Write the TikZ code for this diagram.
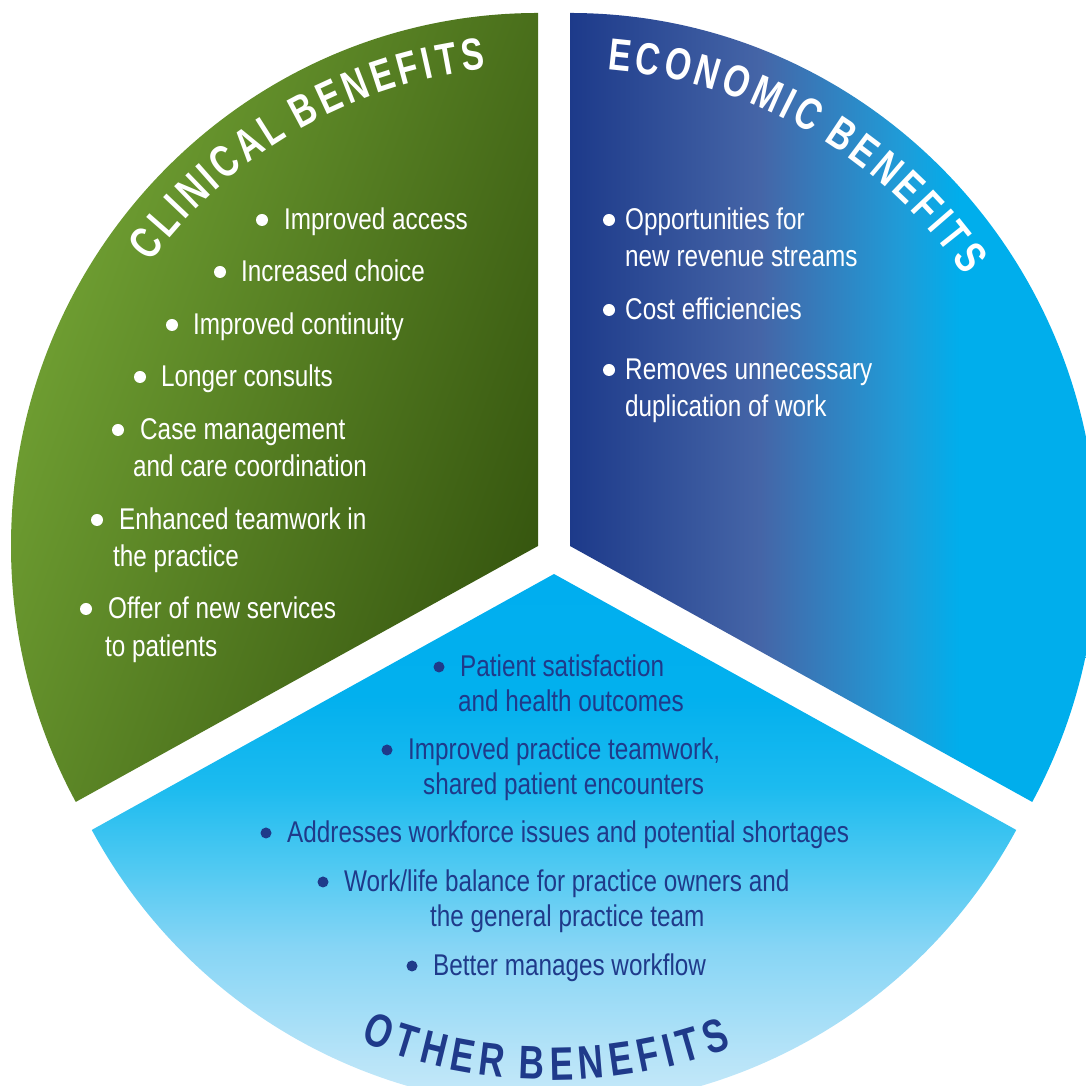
\documentclass[tikz,border=0pt]{standalone}
\usepackage{fontspec}
\usetikzlibrary{decorations.text}
\newfontfamily\bodyfam[FakeStretch=0.81]{Liberation Sans}
\newfontfamily\titlefam[FakeStretch=0.75]{Liberation Sans}
\newcommand\ttlfont{\titlefam\bfseries\fontsize{45}{48}\selectfont}
\newcommand\ttlfontb{\titlefam\bfseries\fontsize{47}{50}\selectfont}
\newdimen\ttlls \ttlls=4.3pt
\newdimen\ttllsb \ttllsb=6pt
\definecolor{grLight}{HTML}{74A535}
\definecolor{grDark}{HTML}{36560F}
\definecolor{econA}{HTML}{1D3A8A}
\definecolor{econB}{HTML}{4565A7}
\definecolor{econC}{HTML}{1F9CD8}
\definecolor{econD}{HTML}{00AEEC}
\definecolor{othA}{HTML}{E4F4FC}
\definecolor{othB}{HTML}{DAF0FB}
\definecolor{othC}{HTML}{B8E4F8}
\definecolor{othD}{HTML}{86D5F5}
\definecolor{othE}{HTML}{4FC9F2}
\definecolor{othF}{HTML}{1CBBEF}
\definecolor{othG}{HTML}{02B0EE}
\definecolor{othH}{HTML}{00AEEF}
\definecolor{otherblue}{HTML}{1F3A8A}
\pgfdeclarehorizontalshading{econshade}{100bp}{color(0bp)=(econA); color(25bp)=(econA); color(43bp)=(econB); color(56.5bp)=(econC); color(62bp)=(econD); color(100bp)=(econD)}
\pgfdeclareverticalshading{othershade}{100bp}{color(0bp)=(othA); color(25bp)=(othA); color(27bp)=(othB); color(35bp)=(othC); color(44.4bp)=(othD); color(51bp)=(othE); color(57.5bp)=(othF); color(65bp)=(othG); color(75bp)=(othH); color(100bp)=(othH)}
\begin{document}
\begin{tikzpicture}[x=1pt,y=1pt,
  wtext/.style={anchor=base west, inner sep=0pt, text=white, font=\bodyfam\fontsize{30}{36}\selectfont},
  btext/.style={wtext, text=otherblue},
  wbul/.style={circle, fill=white, inner sep=0pt, minimum size=12pt},
  bbul/.style={wbul, fill=otherblue, minimum size=11pt}]
\useasboundingbox (0,0) rectangle (1086,1086);
\clip (0,0) rectangle (1086,1086);
\coordinate (CA) at (538,540);
\coordinate (EA) at (570,540);
\coordinate (OA) at (554,512);
% sectors
\shade[top color=grLight, bottom color=grDark, shading angle=70]
  (CA) -- ++(90:527 and 533) arc[start angle=90, end angle=208.7, x radius=527, y radius=533] -- cycle;
\shade[shading=econshade]
  (EA) -- ++(90:527 and 533) arc[start angle=90, end angle=-28.7, x radius=527, y radius=533] -- cycle;
\shade[shading=othershade]
  (OA) -- ++(208.7:527 and 533) arc[start angle=208.7, end angle=331.3, x radius=527, y radius=533] -- cycle;
% titles
\path[shift={(CA)}, decorate, decoration={text along path, text align=center, text color=white,
  text={|\ttlfont|{C\kern\ttlls}{L\kern\ttlls}{I\kern\ttlls}{N\kern\ttlls}{I\kern\ttlls}{C\kern\ttlls}{A\kern\ttlls}{L\kern\ttlls} {B\kern\ttlls}{E\kern\ttlls}{N\kern\ttlls}{E\kern\ttlls}{F\kern\ttlls}{I\kern\ttlls}{T\kern\ttlls}S}}]
  (176:480) arc[start angle=176, end angle=64, radius=480];
\path[shift={(EA)}, decorate, decoration={text along path, text align=center, text color=white,
  text={|\ttlfont|{E\kern\ttlls}{C\kern\ttlls}{O\kern\ttlls}{N\kern\ttlls}{O\kern\ttlls}{M\kern\ttlls}{I\kern\ttlls}{C\kern\ttlls} {B\kern\ttlls}{E\kern\ttlls}{N\kern\ttlls}{E\kern\ttlls}{F\kern\ttlls}{I\kern\ttlls}{T\kern\ttlls}S}}]
  (116:478) arc[start angle=116, end angle=4, radius=478];
\path[shift={(OA)}, decorate, decoration={text along path, text align=center, text color=otherblue,
  text={|\ttlfontb|{O\kern\ttllsb}{T\kern\ttllsb}{H\kern\ttllsb}{E\kern\ttllsb}{R\kern\ttllsb} {B\kern\ttllsb}{E\kern\ttllsb}{N\kern\ttllsb}{E\kern\ttllsb}{F\kern\ttllsb}{I\kern\ttllsb}{T\kern\ttllsb}S}}]
  (234:506) arc[start angle=234, end angle=304, radius=506];
% clinical
\node[wbul] (c1d) at (262,866) {};
\node[wtext] (c1) at (284,856) {Improved access};
\node[wbul] (c2d) at (220,814) {};
\node[wtext] (c2) at (241,804) {Increased choice};
\node[wbul] (c3d) at (172,761) {};
\node[wtext] (c3) at (193,751) {Improved continuity};
\node[wbul] (c4d) at (140,709) {};
\node[wtext] (c4) at (161,699) {Longer consults};
\node[wbul] (c5d) at (118,656) {};
\node[wtext] (c5) at (140,646) {Case management};
\node[wtext] (c5b) at (133,609) {and care coordination};
\node[wbul] (c6d) at (97,566) {};
\node[wtext] (c6) at (119,556) {Enhanced teamwork in};
\node[wtext] (c6b) at (113,519) {the practice};
\node[wbul] (c7d) at (86,477) {};
\node[wtext] (c7) at (108,467) {Offer of new services};
\node[wtext] (c7b) at (105,429) {to patients};
% economic
\node[wbul] (e1d) at (609,866) {};
\node[wtext] (e1) at (625,856) {Opportunities for};
\node[wtext] (e1b) at (625,819) {new revenue streams};
\node[wbul] (e2d) at (609,776) {};
\node[wtext] (e2) at (625,766) {Cost efficiencies};
\node[wbul] (e3d) at (609,716) {};
\node[wtext] (e3) at (625,706) {Removes unnecessary};
\node[wtext] (e3b) at (625,669) {duplication of work};
% other
\node[bbul] (o1d) at (439,419) {};
\node[btext] (o1) at (460,409) {Patient satisfaction};
\node[btext] (o1b) at (458,374) {and health outcomes};
\node[bbul] (o2d) at (387,336) {};
\node[btext] (o2) at (408,326) {Improved practice teamwork,};
\node[btext] (o2b) at (423,291) {shared patient encounters};
\node[bbul] (o3d) at (266,253) {};
\node[btext] (o3) at (287,243) {Addresses workforce issues and potential shortages};
\node[bbul] (o4d) at (323,204) {};
\node[btext] (o4) at (344,194) {Work/life balance for practice owners and};
\node[btext] (o4b) at (430,159) {the general practice team};
\node[bbul] (o5d) at (412,120) {};
\node[btext] (o5) at (433,110) {Better manages workflow};
\end{tikzpicture}
\end{document}
